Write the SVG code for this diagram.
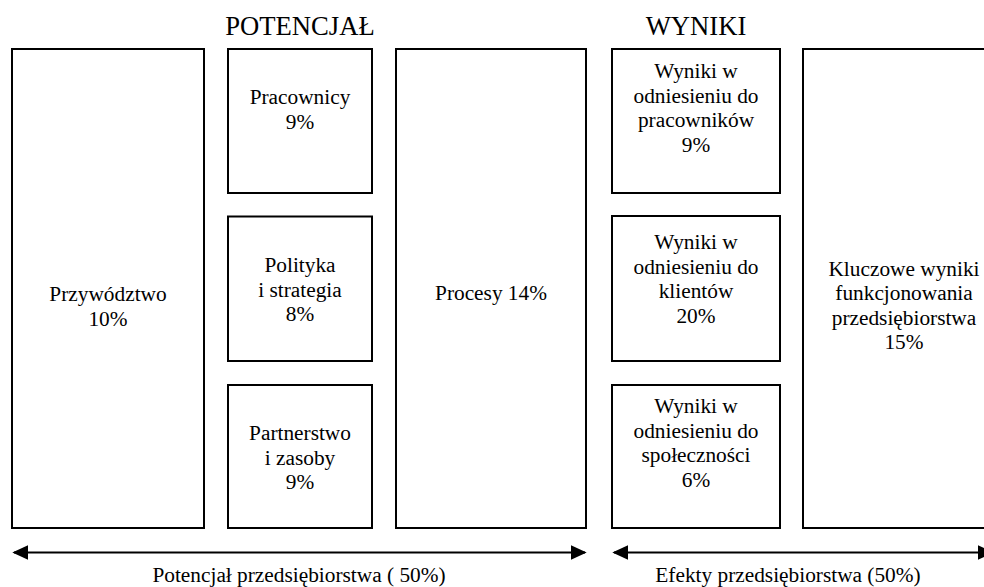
<svg xmlns="http://www.w3.org/2000/svg" width="984" height="587" viewBox="0 0 984 587">
<style>
  .box { fill: #ffffff; stroke: #000000; stroke-width: 2; }
  .label { font-family: "Liberation Serif", "Times New Roman", serif; font-size: 21.33px; fill: #000000; text-anchor: middle; }
  .title { font-family: "Liberation Serif", "Times New Roman", serif; font-size: 26.67px; fill: #000000; text-anchor: middle; }
  .arr { stroke: #000000; stroke-width: 2; fill: none; marker-start: url(#ah); marker-end: url(#ah); }
</style>
<defs>
  <marker id="ah" markerUnits="userSpaceOnUse" markerWidth="16" markerHeight="15" refX="14.3" refY="7.5" orient="auto-start-reverse">
    <path d="M0,0 L16,7.5 L0,15 Z" fill="#000000"/>
  </marker>
</defs>
<rect width="984" height="587" fill="#ffffff"/>

<text class="title" x="300" y="35" font-family="Liberation Serif, serif">POTENCJAŁ</text>
<text class="title" x="696" y="35" font-family="Liberation Serif, serif">WYNIKI</text>

<g id="przywodztwo">
  <rect class="box" x="12" y="49" width="192" height="479"/>
  <text class="label" font-family="Liberation Serif, serif"><tspan x="108" y="301">Przywództwo</tspan><tspan x="108" y="325.5">10%</tspan></text>
</g>
<g id="pracownicy">
  <rect class="box" x="228" y="49" width="144" height="144"/>
  <text class="label" font-family="Liberation Serif, serif"><tspan x="300" y="104">Pracownicy</tspan><tspan x="300" y="128.5">9%</tspan></text>
</g>
<g id="polityka">
  <rect class="box" x="228" y="216.5" width="144" height="144.5"/>
  <text class="label" font-family="Liberation Serif, serif"><tspan x="300" y="272">Polityka</tspan><tspan x="300" y="296.5">i strategia</tspan><tspan x="300" y="321">8%</tspan></text>
</g>
<g id="partnerstwo">
  <rect class="box" x="228" y="385" width="144" height="143"/>
  <text class="label" font-family="Liberation Serif, serif"><tspan x="300" y="440">Partnerstwo</tspan><tspan x="300" y="464.5">i zasoby</tspan><tspan x="300" y="489">9%</tspan></text>
</g>
<g id="procesy">
  <rect class="box" x="396" y="49" width="190" height="479"/>
  <text class="label" x="491" y="300" font-family="Liberation Serif, serif">Procesy 14%</text>
</g>
<g id="wyniki-pracownicy">
  <rect class="box" x="612" y="49" width="168" height="144"/>
  <text class="label" font-family="Liberation Serif, serif"><tspan x="696" y="78">Wyniki w</tspan><tspan x="696" y="102.5">odniesieniu do</tspan><tspan x="696" y="127">pracowników</tspan><tspan x="696" y="151.5">9%</tspan></text>
</g>
<g id="wyniki-klienci">
  <rect class="box" x="612" y="216" width="168" height="145"/>
  <text class="label" font-family="Liberation Serif, serif"><tspan x="696" y="249">Wyniki w</tspan><tspan x="696" y="273.5">odniesieniu do</tspan><tspan x="696" y="298">klientów</tspan><tspan x="696" y="322.5">20%</tspan></text>
</g>
<g id="wyniki-spolecznosc">
  <rect class="box" x="612" y="385" width="168" height="143"/>
  <text class="label" font-family="Liberation Serif, serif"><tspan x="696" y="413">Wyniki w</tspan><tspan x="696" y="437.5">odniesieniu do</tspan><tspan x="696" y="462">społeczności</tspan><tspan x="696" y="486.5">6%</tspan></text>
</g>
<g id="kluczowe">
  <rect class="box" x="803" y="49" width="202" height="479"/>
  <text class="label" font-family="Liberation Serif, serif"><tspan x="904" y="275.5">Kluczowe wyniki</tspan><tspan x="904" y="300">funkcjonowania</tspan><tspan x="904" y="324.5">przedsiębiorstwa</tspan><tspan x="904" y="349">15%</tspan></text>
</g>

<g id="connectors">
  <line class="arr" x1="14" y1="552.5" x2="585" y2="552.5"/>
  <line class="arr" x1="614" y1="552.5" x2="992" y2="552.5"/>
</g>

<text class="label" x="299" y="581.5" font-family="Liberation Serif, serif">Potencjał przedsiębiorstwa ( 50%)</text>
<text class="label" x="788" y="581.5" font-family="Liberation Serif, serif">Efekty przedsiębiorstwa (50%)</text>
</svg>
